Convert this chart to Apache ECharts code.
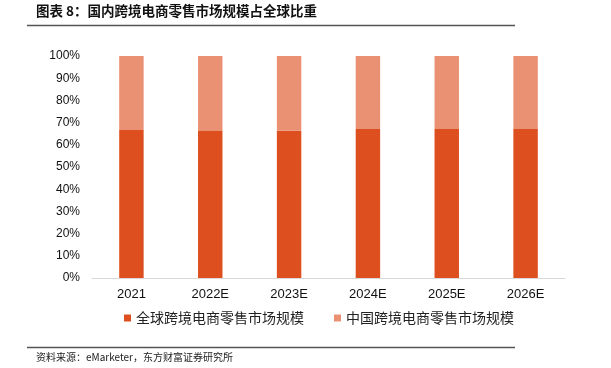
<!DOCTYPE html>
<html><head><meta charset="utf-8">
<script src="https://cdn.jsdelivr.net/npm/echarts@6/dist/echarts.min.js"></script>
<style>html,body{margin:0;padding:0;background:#fff}#c{width:611px;height:368px}</style>
</head><body><div id="c"></div>
<script>
const categories = ['2021','2022E','2023E','2024E','2025E','2026E'];
const globalShare = [66.7, 66.2, 66.3, 67.1, 67.1, 67.1];
const chinaShare = [33.3, 33.8, 33.7, 32.9, 32.9, 32.9];
const seriesNames = ['全球跨境电商零售市场规模','中国跨境电商零售市场规模'];
const titleText = '图表 8：国内跨境电商零售市场规模占全球比重';
const sourceText = '资料来源：eMarketer，东方财富证券研究所';

const chart = echarts.init(document.getElementById('c'));
chart.setOption({
  animation: false,
  backgroundColor: '#fff',
  graphic: [
    {type:'text', left:36, top:4, style:{text:titleText, font:'bold 13.5px "Noto Sans CJK SC"', fill:'#111'}},
    {type:'line', shape:{x1:27,y1:25.5,x2:515,y2:25.5}, style:{stroke:'#555', lineWidth:1.5}},
    {type:'line', shape:{x1:27,y1:347.5,x2:515,y2:347.5}, style:{stroke:'#555', lineWidth:1.5}},
    {type:'text', left:36, top:352, style:{text:sourceText, font:'10px "Noto Sans CJK SC"', fill:'#222'}}
  ],
  grid: {left:92, right:46, top:56, bottom:90},
  legend: {
    bottom: 38, left: 119,
    icon: 'rect', itemWidth: 7, itemHeight: 7, itemGap: 30,
    textStyle: {fontFamily:'"Noto Sans CJK SC"', fontSize:14, color:'#222'},
    data: seriesNames
  },
  xAxis: {
    type:'category', data: categories,
    axisLine:{lineStyle:{color:'#d9d9d9'}}, axisTick:{show:false},
    axisLabel:{color:'#111', fontSize:13, fontFamily:'"Liberation Sans", Arial', margin:10}
  },
  yAxis: {
    type:'value', min:0, max:100, interval:10,
    splitLine:{show:false}, axisLine:{show:false}, axisTick:{show:false},
    axisLabel:{formatter:'{value}%', color:'#111', fontSize:12, fontFamily:'"Liberation Sans", Arial', margin:12}
  },
  series: [
    {name:seriesNames[0], type:'bar', stack:'s', data:globalShare, barWidth:'31%', itemStyle:{color:'#DD4F1F'}},
    {name:seriesNames[1], type:'bar', stack:'s', data:chinaShare, barWidth:'31%', itemStyle:{color:'#EA9173'}}
  ]
});
</script></body></html>
